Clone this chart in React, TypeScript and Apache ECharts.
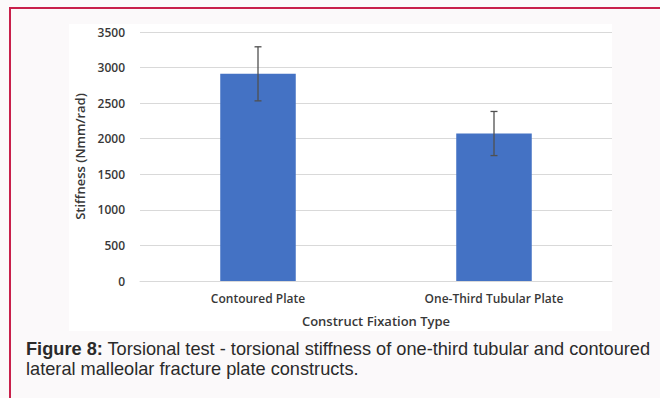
import React, { useEffect, useRef } from "react";
import * as echarts from "echarts";

const categories = ["Contoured Plate", "One-Third Tubular Plate"];
const stiffnessMean = [2912, 2073];
const stiffnessSD = [380, 310];
const yTicks = { min: 0, max: 3500, interval: 500 };
const yAxisTitle = "Stiffness (Nmm/rad)";
const xAxisTitle = "Construct Fixation Type";
const captionBold = "Figure 8:";
const captionLine1 = " Torsional test - torsional stiffness of one-third tubular and contoured";
const captionLine2 = "lateral malleolar fracture plate constructs.";

const chartFont = "'Open Sans', 'DejaVu Sans', sans-serif";
const captionFont = "'Liberation Sans', Arial, sans-serif";
const textGrey = "#383838";
const capSize = 18.2;
const labelWeight = 600;

export default function App() {
  const ref = useRef<HTMLDivElement>(null);
  useEffect(() => {
    if (!ref.current) return;
    const chart = echarts.init(ref.current, undefined, { renderer: "svg" });
    const errData = categories.map((_, i) => [
      i,
      stiffnessMean[i] - stiffnessSD[i],
      stiffnessMean[i] + stiffnessSD[i],
    ]);
    chart.setOption({
      animation: false,
      backgroundColor: "#fbf9fa",
      graphic: [
        { type: "rect", z: -10, shape: { x: 69, y: 24, width: 543, height: 307 }, style: { fill: "#ffffff" }, silent: true },
        { type: "rect", z: 10, shape: { x: 9, y: 7, width: 651, height: 2 }, style: { fill: "#c8204b" }, silent: true },
        { type: "rect", z: 10, shape: { x: 9, y: 7, width: 2, height: 391 }, style: { fill: "#c8204b" }, silent: true },
        {
          type: "text",
          left: 26,
          top: 340,
          style: {
            text: "{b|" + captionBold + "}{n|" + captionLine1 + "}",
            font: capSize + "px " + captionFont,
            fill: "#2a2a2a",
            rich: {
              b: { fontWeight: "bold", fontSize: capSize, fontFamily: captionFont, fill: "#2a2a2a" },
              n: { fontSize: capSize, fontFamily: captionFont, fill: "#2a2a2a" },
            },
          },
        },
        {
          type: "text",
          left: 26,
          top: 360,
          style: {
            text: captionLine2,
            font: capSize + "px " + captionFont,
            fill: "#2a2a2a",
          },
        },
      ],
      grid: { left: 140, right: 48, top: 32, bottom: 117 },
      xAxis: {
        type: "category",
        data: categories,
        name: xAxisTitle,
        nameLocation: "middle",
        nameGap: 33,
        nameTextStyle: { fontFamily: chartFont, fontSize: 13, fontWeight: labelWeight, color: textGrey },
        axisLine: { lineStyle: { color: "#d9d9d9", width: 1 } },
        axisTick: { show: false },
        axisLabel: { fontFamily: chartFont, fontSize: 12, fontWeight: labelWeight, color: textGrey, margin: 11 },
      },
      yAxis: {
        type: "value",
        min: yTicks.min,
        max: yTicks.max,
        interval: yTicks.interval,
        name: yAxisTitle,
        nameLocation: "middle",
        nameGap: 48,
        nameTextStyle: { fontFamily: chartFont, fontSize: 13, fontWeight: labelWeight, color: textGrey },
        axisLine: { show: false },
        axisTick: { show: false },
        splitLine: { lineStyle: { color: "#d9d9d9", width: 1 } },
        axisLabel: {
          fontFamily: chartFont,
          fontSize: 12,
          fontWeight: labelWeight,
          color: textGrey,
          margin: 15,
          formatter: (v: number) => String(v),
        },
      },
      series: [
        {
          type: "bar",
          data: stiffnessMean,
          barWidth: "32%",
          itemStyle: { color: "#4472c4" },
        },
        {
          type: "custom",
          data: errData,
          z: 5,
          renderItem: (params: any, api: any) => {
            const x = api.value(0);
            const lo = api.coord([x, api.value(1)]);
            const hi = api.coord([x, api.value(2)]);
            const cap = 3.5;
            const style = { stroke: "#505050", lineWidth: 1.3 };
            return {
              type: "group",
              children: [
                { type: "line", shape: { x1: hi[0], y1: hi[1], x2: lo[0], y2: lo[1] }, style },
                { type: "line", shape: { x1: hi[0] - cap, y1: hi[1], x2: hi[0] + cap, y2: hi[1] }, style },
                { type: "line", shape: { x1: lo[0] - cap, y1: lo[1], x2: lo[0] + cap, y2: lo[1] }, style },
              ],
            };
          },
        },
      ],
    });
    return () => chart.dispose();
  }, []);
  return (
    <div
      ref={ref}
      style={{ position: "fixed", left: 0, top: 0, width: 660, height: 398 }}
    />
  );
}
